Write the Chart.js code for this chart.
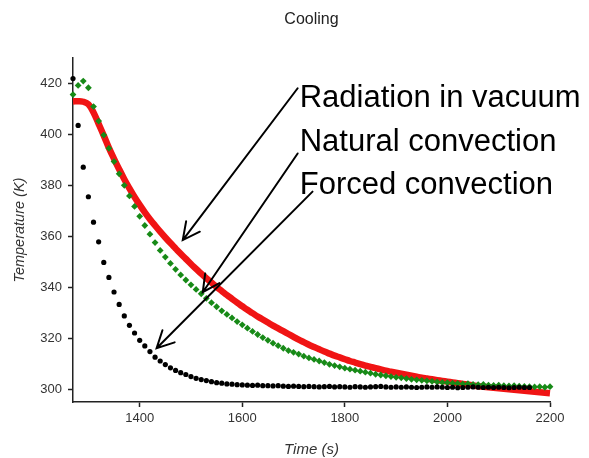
<!DOCTYPE html>
<html lang="en">
<head>
    <meta charset="UTF-8">
    <title>Cooling</title>
    <script src="https://cdn.jsdelivr.net/npm/chart.js"></script>
    <style>
        * {
            margin: 0;
            padding: 0;
            box-sizing: border-box;
        }

        body {
            background-color: #fff;
        }

        .chart-box {
            position: relative;
            width: 589px;
            height: 458px;
        }
    </style>
</head>
<body>
    <div class="chart-box">
        <canvas id="coolingChart"></canvas>
    </div>
    <script>
        // Time (s), one reading every 10 s
        const times = [1270, 1280, 1290, 1300, 1310, 1320, 1330, 1340, 1350, 1360,
            1370, 1380, 1390, 1400, 1410, 1420, 1430, 1440, 1450, 1460,
            1470, 1480, 1490, 1500, 1510, 1520, 1530, 1540, 1550, 1560,
            1570, 1580, 1590, 1600, 1610, 1620, 1630, 1640, 1650, 1660,
            1670, 1680, 1690, 1700, 1710, 1720, 1730, 1740, 1750, 1760,
            1770, 1780, 1790, 1800, 1810, 1820, 1830, 1840, 1850, 1860,
            1870, 1880, 1890, 1900, 1910, 1920, 1930, 1940, 1950, 1960,
            1970, 1980, 1990, 2000, 2010, 2020, 2030, 2040, 2050, 2060,
            2070, 2080, 2090, 2100, 2110, 2120, 2130, 2140, 2150, 2160,
            2170, 2180, 2190, 2200];

        // Temperature (K)
        const radiationVacuum = [413.0, 413.1, 412.9, 411.9, 408.7, 404.2, 399.6, 394.8, 390.5, 386.4,
            382.5, 378.9, 375.5, 372.4, 369.5, 366.8, 364.3, 361.9, 359.6, 357.4,
            355.3, 353.2, 351.2, 349.2, 347.3, 345.4, 343.6, 341.9, 340.2, 338.6,
            337.0, 335.5, 334.0, 332.6, 331.2, 329.9, 328.6, 327.4, 326.2, 325.0,
            323.9, 322.8, 321.7, 320.6, 319.5, 318.5, 317.5, 316.6, 315.7, 314.8,
            314.0, 313.2, 312.5, 311.8, 311.1, 310.5, 309.9, 309.3, 308.8, 308.3,
            307.8, 307.3, 306.9, 306.5, 306.1, 305.7, 305.3, 304.9, 304.5, 304.2,
            303.9, 303.6, 303.3, 303.0, 302.7, 302.4, 302.1, 301.8, 301.5, 301.2,
            301.0, 300.8, 300.6, 300.4, 300.2, 300.0, 299.8, 299.6, 299.4, 299.2,
            299.0, 298.8, 298.6, 298.4];

        const naturalConvection = [415.7, 419.3, 421.0, 418.4, 411.0, 405.3, 399.8, 394.6, 389.4, 384.6,
            380.1, 375.9, 371.8, 367.9, 364.3, 360.9, 357.6, 354.5, 351.9, 349.4,
            347.1, 344.9, 342.9, 341.0, 339.2, 337.5, 335.7, 334.0, 332.4, 330.8,
            329.4, 328.0, 326.6, 325.3, 324.0, 322.7, 321.5, 320.3, 319.2, 318.1,
            317.1, 316.1, 315.2, 314.5, 313.8, 313.0, 312.3, 311.7, 311.1, 310.5,
            309.8, 309.3, 308.8, 308.3, 307.9, 307.5, 307.1, 306.7, 306.3, 305.9,
            305.6, 305.3, 305.0, 304.7, 304.5, 304.2, 303.9, 303.7, 303.5, 303.3,
            303.1, 302.9, 302.7, 302.6, 302.4, 302.3, 302.1, 302.2, 301.9, 301.8,
            301.9, 301.6, 301.5, 301.6, 301.4, 301.3, 301.4, 301.2, 301.1, 301.0,
            300.9, 301.0, 300.8, 301.0];

        // forced convection stops at 2160 s
        const forcedConvection = [422.0, 403.6, 387.2, 375.6, 365.6, 357.9, 349.8, 343.9, 338.2, 333.3,
            328.8, 325.1, 322.1, 319.2, 317.0, 314.8, 312.6, 311.1, 309.7, 308.4,
            307.4, 306.5, 305.8, 305.0, 304.3, 303.8, 303.4, 303.0, 302.6, 302.4,
            302.1, 302.0, 301.8, 301.7, 301.6, 301.5, 301.6, 301.4, 301.4, 301.3,
            301.4, 301.2, 301.1, 301.2, 301.1, 301.0, 301.1, 301.0, 300.9, 301.0,
            301.1, 300.9, 301.0, 300.9, 300.8, 301.0, 300.9, 300.8, 300.9, 301.0,
            301.1, 300.9, 300.8, 300.9, 300.8, 300.9, 300.8, 300.7, 300.8, 300.9,
            300.8, 300.9, 300.8, 300.7, 300.8, 300.6, 300.7, 300.8, 300.9, 300.8,
            300.7, 300.8, 300.7, 300.8, 300.7, 300.6, 300.7, 300.8, 300.7, 300.7];

        const xTicks = [1400, 1600, 1800, 2000, 2200];
        const yTicks = [300, 320, 340, 360, 380, 400, 420];

        // Labels with arrows, in data units: text anchor, arrow start, arrow tip
        const labels = ["Radiation in vacuum", "Natural convection", "Forced convection"];
        const labelAt = [[1712, 410.9], [1712, 393.6], [1712, 376.7]];
        const arrowFrom = [[1708, 418.2], [1708, 392.6], [1737, 377.6]];
        const arrowTo = [[1484, 358.6], [1523, 338.1], [1433, 316.1]];

        const toPoints = (vals) => vals.map((v, i) => ({ x: times[i], y: v }));

        const annotate = {
            id: "annotate",
            afterDatasetsDraw(chart) {
                const ctx = chart.ctx;
                const sx = chart.scales.x;
                const sy = chart.scales.y;
                ctx.save();
                ctx.strokeStyle = "#000";
                ctx.lineWidth = 2;
                ctx.lineCap = "round";
                arrowFrom.forEach((a, i) => {
                    const x0 = sx.getPixelForValue(a[0]), y0 = sy.getPixelForValue(a[1]);
                    const x1 = sx.getPixelForValue(arrowTo[i][0]), y1 = sy.getPixelForValue(arrowTo[i][1]);
                    const ang = Math.atan2(y0 - y1, x0 - x1);
                    const head = 19, spread = 0.47;
                    ctx.beginPath();
                    ctx.moveTo(x0, y0);
                    ctx.lineTo(x1, y1);
                    ctx.moveTo(x1 + head * Math.cos(ang - spread), y1 + head * Math.sin(ang - spread));
                    ctx.lineTo(x1, y1);
                    ctx.lineTo(x1 + head * Math.cos(ang + spread), y1 + head * Math.sin(ang + spread));
                    ctx.stroke();
                });
                ctx.fillStyle = "#000";
                ctx.font = "31px 'Liberation Sans', Arial, sans-serif";
                ctx.textBaseline = "alphabetic";
                labels.forEach((t, i) => {
                    ctx.fillText(t, sx.getPixelForValue(labelAt[i][0]), sy.getPixelForValue(labelAt[i][1]));
                });
                ctx.restore();
            }
        };

        const axisFont = { family: "'Liberation Sans', Arial, sans-serif", size: 13 };

        new Chart(document.getElementById("coolingChart"), {
            type: "scatter",
            data: {
                datasets: [{
                    label: "Forced convection",
                    data: toPoints(forcedConvection),
                    backgroundColor: "#000",
                    borderWidth: 0,
                    pointRadius: 2.6,
                    clip: false
                }, {
                    label: "Natural convection",
                    data: toPoints(naturalConvection),
                    pointStyle: "rectRot",
                    backgroundColor: "#178a17",
                    borderWidth: 0,
                    pointRadius: 3.4,
                    clip: false
                }, {
                    label: "Radiation in vacuum",
                    data: toPoints(radiationVacuum),
                    showLine: true,
                    borderColor: "#f01414",
                    borderWidth: 6.5,
                    tension: 0.4,
                    pointRadius: 0,
                    clip: false
                }]
            },
            options: {
                responsive: true,
                maintainAspectRatio: false,
                animation: false,
                layout: { padding: { left: 0, right: 39, top: 0, bottom: 0 } },
                plugins: {
                    legend: { display: false },
                    tooltip: { enabled: false },
                    title: {
                        display: true,
                        text: "Cooling",
                        fullSize: false,
                        color: "#222",
                        font: { family: "'Liberation Sans', Arial, sans-serif", size: 16, weight: "normal" },
                        padding: { top: 10, bottom: 29 }
                    }
                },
                scales: {
                    x: {
                        type: "linear",
                        min: 1270,
                        max: 2200,
                        afterBuildTicks: (s) => { s.ticks = xTicks.map(v => ({ value: v })); },
                        afterFit: (s) => { s.height = 56; },
                        border: { display: true, color: "#222", width: 1.5 },
                        grid: { drawOnChartArea: false, drawTicks: true, tickLength: 5, tickColor: "#222", tickWidth: 1.5 },
                        ticks: { color: "#333", font: axisFont, padding: 4, maxRotation: 0, callback: (v) => String(v) },
                        title: {
                            display: true,
                            text: "Time (s)",
                            color: "#333",
                            font: { family: "'Liberation Sans', Arial, sans-serif", size: 15, style: "italic", lineHeight: 1 },
                            padding: { top: 0, bottom: 1 }
                        }
                    },
                    y: {
                        min: 295,
                        max: 430,
                        afterBuildTicks: (s) => { s.ticks = yTicks.map(v => ({ value: v })); },
                        afterFit: (s) => { s.width = 73; },
                        border: { display: true, color: "#222", width: 1.5 },
                        grid: { drawOnChartArea: false, drawTicks: true, tickLength: 5, tickColor: "#222", tickWidth: 1.5 },
                        ticks: { color: "#333", font: axisFont, padding: 6, callback: (v) => String(v) },
                        title: {
                            display: true,
                            text: "Temperature (K)",
                            color: "#333",
                            font: { family: "'Liberation Sans', Arial, sans-serif", size: 14.5, style: "italic", lineHeight: 1 },
                            padding: { top: 13, bottom: 0 }
                        }
                    }
                }
            },
            plugins: [annotate]
        });
    </script>
</body>
</html>
